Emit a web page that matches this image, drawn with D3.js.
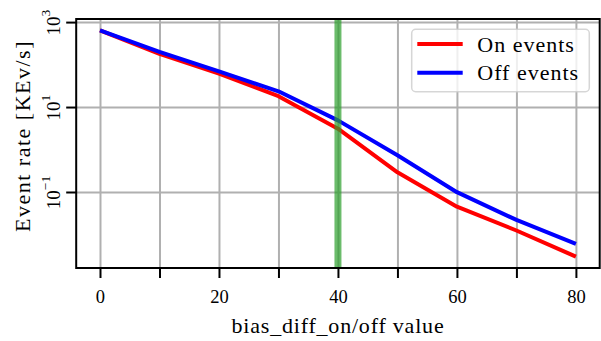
<!DOCTYPE html>
<html>
<head>
<meta charset="utf-8">
<script src="https://cdn.jsdelivr.net/npm/d3@7"></script>
<style>
  body { margin: 0; background: #fff; }
  text { font-family: "Liberation Serif", "Times New Roman", serif; fill: #000; }
</style>
</head>
<body>
<script>
/** Data */
const xValues = [0, 10, 20, 30, 40, 50, 60, 70, 80];
const onEvents = [640, 178, 61, 18, 3.1, 0.29, 0.045, 0.0124, 0.0030];
const offEvents = [640, 198, 69, 23.5, 4.85, 0.73, 0.099, 0.022, 0.0060];
const seriesNames = ["On events", "Off events"];
const seriesColors = ["#ff0000", "#0000ff"];
const markerX = 40;

/** Tick values and labels */
const xTicks = [0, 10, 20, 30, 40, 50, 60, 70, 80];
const xTickLabels = ["0", "", "20", "", "40", "", "60", "", "80"];
const yTicks = [1e-1, 1e1, 1e3];
const yTickExponents = ["\u22121", "1", "3"];

function drawSvg() {

  const w = 601;
  const h = 341;
  const margin = {top: 19, right: 1.3, bottom: 73, left: 76.2};
  const width = w - margin.left - margin.right;
  const height = h - margin.top - margin.bottom;

  /** x scale with matplotlib-like 5% margins */
  const xExt = d3.extent(xValues);
  const xPad = (xExt[1] - xExt[0]) * 0.05;
  const xScale = d3.scaleLinear()
    .domain([xExt[0] - xPad, xExt[1] + xPad])
    .range([0, width])
  ;

  /** log y scale, 5% margins in log space */
  const all = onEvents.concat(offEvents);
  const lo = Math.log10(d3.min(all)), hi = Math.log10(d3.max(all));
  const yPad = (hi - lo) * 0.05;
  const yScale = d3.scaleLog()
    .domain([Math.pow(10, lo - yPad), Math.pow(10, hi + yPad)])
    .range([height, 0])
  ;

  const svg = d3.select("body")
    .append("svg")
    .attr("width", w)
    .attr("height", h)
  ;

  const g = svg.append("g")
    .attr("transform", "translate(" + margin.left + "," + margin.top + ")")
  ;

  /** Grid */
  const xGrid = g.append("g")
    .attr("transform", "translate(0," + height + ")")
    .call(d3.axisBottom(xScale).tickValues(xTicks).tickSize(-height).tickFormat(""))
  ;
  const yGrid = g.append("g")
    .call(d3.axisLeft(yScale).tickValues(yTicks).tickSize(-width).tickFormat(""))
  ;
  [xGrid, yGrid].forEach(function(s) {
    s.select(".domain").remove();
    s.selectAll("line").attr("stroke", "#b0b0b0").attr("stroke-width", 2);
  });

  /** Lines */
  const line = d3.line()
    .x(function(d, i) { return xScale(xValues[i]); })
    .y(function(d) { return yScale(d); })
  ;
  [onEvents, offEvents].forEach(function(series, i) {
    g.append("path")
      .datum(series)
      .attr("d", line)
      .attr("fill", "none")
      .attr("stroke", seriesColors[i])
      .attr("stroke-width", 4)
      .attr("stroke-linejoin", "round")
    ;
  });

  /** Vertical marker */
  g.append("line")
    .attr("x1", xScale(markerX))
    .attr("x2", xScale(markerX))
    .attr("y1", 0)
    .attr("y2", height)
    .attr("stroke", "#2ca02c")
    .attr("stroke-opacity", 0.7)
    .attr("stroke-width", 7)
  ;

  /** Spines */
  g.append("rect")
    .attr("width", width)
    .attr("height", height)
    .attr("fill", "none")
    .attr("stroke", "#000")
    .attr("stroke-width", 2)
  ;

  /** x axis */
  const xAxis = g.append("g")
    .attr("transform", "translate(0," + height + ")")
    .call(d3.axisBottom(xScale).tickValues(xTicks).tickSize(10).tickSizeOuter(0)
      .tickFormat(function(d, i) { return xTickLabels[i]; }))
  ;
  xAxis.select(".domain").remove();
  xAxis.selectAll("line").attr("stroke", "#000").attr("stroke-width", 2);
  xAxis.selectAll("text")
    .attr("y", 34.5)
    .attr("dy", 0)
    .attr("font-size", 18.5)
    .attr("font-family", null)
  ;

  /** y axis with rotated power-of-ten labels */
  const yAxis = g.append("g")
    .call(d3.axisLeft(yScale).tickValues(yTicks).tickSize(10).tickSizeOuter(0).tickFormat(""))
  ;
  yAxis.select(".domain").remove();
  yAxis.selectAll("line").attr("stroke", "#000").attr("stroke-width", 2);
  yAxis.selectAll("text").remove();
  yAxis.selectAll(".tick").each(function(d, i) {
    const t = d3.select(this).append("text")
      .attr("transform", "translate(-16.5,0) rotate(-90)")
      .attr("text-anchor", "middle")
      .attr("font-size", 19)
    ;
    t.append("tspan").text("10");
    t.append("tspan")
      .attr("dy", -10)
      .attr("font-size", 13.5)
      .text(yTickExponents[i])
    ;
  });

  /** Axis titles */
  svg.append("text")
    .attr("x", 338)
    .attr("y", 333)
    .attr("text-anchor", "middle")
    .attr("font-size", 22)
    .attr("letter-spacing", 0.8)
    .text("bias_diff_on/off value")
  ;
  svg.append("text")
    .attr("transform", "translate(30,136) rotate(-90)")
    .attr("text-anchor", "middle")
    .attr("font-size", 22)
    .attr("letter-spacing", 1.5)
    .text("Event rate [KEv/s]")
  ;

  /** Legend */
  const legend = svg.append("g")
    .attr("transform", "translate(411.7,29.3)")
  ;
  legend.append("rect")
    .attr("width", 177.6)
    .attr("height", 62.4)
    .attr("rx", 4)
    .attr("fill", "#fff")
    .attr("fill-opacity", 0.8)
    .attr("stroke", "#cccccc")
    .attr("stroke-opacity", 0.8)
    .attr("stroke-width", 1.5)
  ;
  seriesNames.forEach(function(name, i) {
    const row = legend.append("g")
      .attr("transform", "translate(0," + (14.7 + i * 28.7) + ")")
    ;
    row.append("line")
      .attr("x1", 5.6)
      .attr("x2", 51)
      .attr("stroke", seriesColors[i])
      .attr("stroke-width", 4)
    ;
    row.append("text")
      .attr("x", 65.6)
      .attr("y", 7.5)
      .attr("font-size", 22)
      .attr("letter-spacing", 1)
      .text(name)
    ;
  });

}

drawSvg();
</script>
</body>
</html>
